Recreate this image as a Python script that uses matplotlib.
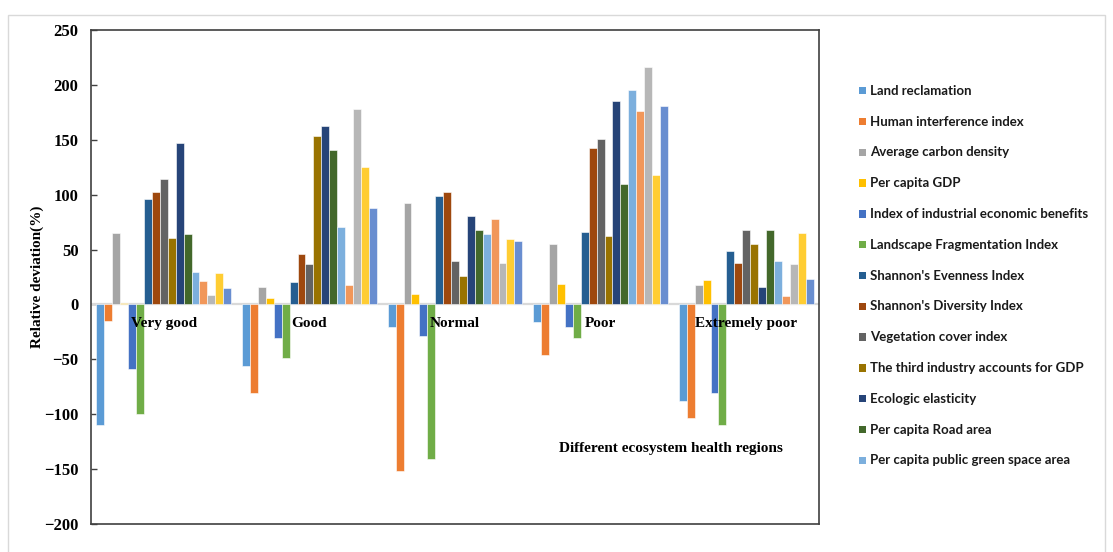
import matplotlib
matplotlib.use('Agg')
import matplotlib.pyplot as plt
from matplotlib.patches import Rectangle
import numpy as np

regions = ['Very good', 'Good', 'Normal', 'Poor', 'Extremely poor']

indicators = ['Land reclamation', 'Human interference index', 'Average carbon density',
              'Per capita GDP', 'Index of industrial economic benefits',
              'Landscape Fragmentation Index', "Shannon's Evenness Index",
              "Shannon's Diversity Index", 'Vegetation cover index',
              'The third industry accounts for GDP', 'Ecologic elasticity',
              'Per capita Road area', 'Per capita public green space area',
              'Series 14', 'Series 15', 'Series 16', 'Series 17']

# one list per region, 17 indicators each
very_good = [-110, -15, 65.5, 1.5, -59, -100, 96, 102.5, 114, 60.5, 147.5, 64, 29.5, 21, 9, 29, 15]
good = [-56.5, -81, 15.5, 5.5, -31, -48.5, 20.5, 45.5, 37, 153, 163, 140.5, 71, 18, 178, 125.5, 88]
normal = [-20.5, -152, 92, 9.5, -29, -141, 99, 102.5, 40, 26, 81, 67.5, 64, 77.5, 38, 60, 58]
poor = [-16, -46.5, 55, 19, -20.5, -31, 66, 142.5, 150.5, 62, 185, 110, 195, 176, 216, 118, 181]
extremely_poor = [-88, -103.5, 18, 22, -80.5, -110, 48.5, 38, 67.5, 55.5, 16, 68, 40, 8, 37, 65, 23.5]

colors = ['#5B9BD5', '#ED7D31', '#A5A5A5', '#FFC000', '#4472C4', '#70AD47',
          '#255E91', '#9E480E', '#636363', '#997300', '#264478', '#43682B',
          '#7CAFDD', '#F1975A', '#B7B7B7', '#FFCD33', '#698ED0']

data = np.array([very_good, good, normal, poor, extremely_poor])  # region x indicator

fig = plt.figure(figsize=(11.13, 5.52), dpi=100)
ax = fig.add_axes([91/1113, 1-524/552, 728/1113, 494/552])

n = len(indicators)
w = 0.925 / n
x = np.arange(len(regions))
for j in range(n):
	ax.bar(x - 0.4625 + w*(j+0.5), data[:, j], width=w, color=colors[j],
	       edgecolor='white', linewidth=0.4, zorder=3)

ax.axhline(0, color='#D9D9D9', linewidth=1.6, zorder=2)
ax.set_xlim(-0.5, len(regions)-0.5)
ax.set_ylim(-200, 250)
ax.set_yticks(range(-200, 251, 50))
ax.set_xticks([])
ax.tick_params(axis='y', direction='in', length=4, width=1, color='#404040', pad=9)
for lab in ax.get_yticklabels():
	lab.set_family('Liberation Serif')
	lab.set_weight('bold')
	lab.set_fontsize(12)
for s in ax.spines.values():
	s.set_color('#404040')
	s.set_linewidth(1.2)

serif = dict(family='Liberation Serif', weight='bold', fontsize=11)
for i, r in enumerate(regions):
	ax.text(i, -17.5, r, ha='center', va='center', zorder=4, **serif)
ax.text(0.796, 0.152, 'Different ecosystem health regions', transform=ax.transAxes,
        ha='center', va='center', **serif)
fig.text(37/1113, 0.498, 'Relative deviation(%)', rotation=90, ha='center', va='center', **serif)

# legend, only the first 13 entries fit, as in the original
for i in range(13):
	yy = 1 - (90.7 + i*30.8)/552
	fig.add_artist(Rectangle((858.5/1113, yy - 3.7/552), 7.4/1113, 7.4/552,
	                         facecolor=colors[i], edgecolor='none', transform=fig.transFigure))
	fig.text(870/1113, yy, indicators[i], ha='left', va='center', family='Lato',
	         weight='bold', fontsize=9.5, color='#1a1a1a')

fig.add_artist(Rectangle((8/1113, -0.01), 1097/1113, 1 - 15/552 + 0.01, fill=False,
                         edgecolor='#D9D9D9', linewidth=1, transform=fig.transFigure))

plt.savefig('out.png', dpi=100)
